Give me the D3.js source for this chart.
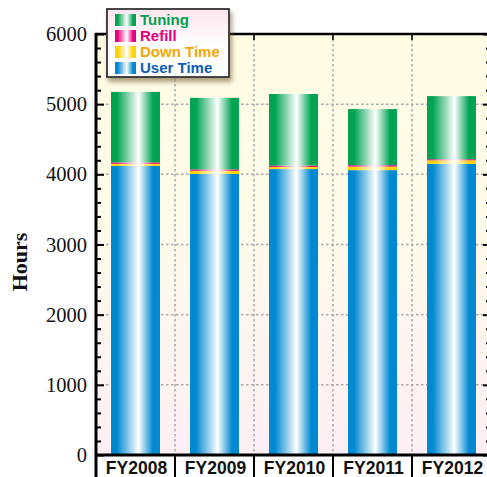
<!DOCTYPE html>
<html>
<head>
<meta charset="utf-8">
<script src="https://cdn.jsdelivr.net/npm/d3@7"></script>
<style>
  html, body { margin: 0; padding: 0; background: #ffffff; }
  svg { display: block; }
</style>
</head>
<body>
<svg id="chart" width="487" height="477"></svg>
<script>
// Annual beam hours by use category
const years = ["FY2008", "FY2009", "FY2010", "FY2011", "FY2012"];
const userTime = [4120, 4005, 4075, 4060, 4150];
const downTime = [30, 45, 30, 50, 50];
const refill   = [20, 20, 20, 20, 15];
const tuning   = [1005, 1020, 1020, 800, 900];
const seriesNames = ["User Time", "Down Time", "Refill", "Tuning"];
const yTicks = [0, 1000, 2000, 3000, 4000, 5000, 6000];

const colors = {
  "User Time": "#0088d1",
  "Down Time": "#ffd200",
  "Refill":    "#e6007e",
  "Tuning":    "#00a352"
};
const textColors = {
  "User Time": "#0d5cae",
  "Down Time": "#f5a700",
  "Refill":    "#e4007c",
  "Tuning":    "#00a050"
};

const svg = d3.select("#chart");
const W = 487, H = 477;
const plot = { left: 96, right: 491, top: 34, bottom: 455 };

const rows = years.map((yr, i) => ({
  year: yr,
  "User Time": userTime[i],
  "Down Time": downTime[i],
  "Refill": refill[i],
  "Tuning": tuning[i]
}));
const stacked = d3.stack().keys(seriesNames)(rows);

const xBand = d3.scaleBand().domain(years).range([plot.left, plot.right]).padding(0);
const xBar = d3.scaleBand().domain(years).range([plot.left, plot.right])
  .paddingInner(0.38).paddingOuter(0.19);
const y = d3.scaleLinear().domain([0, 6000]).range([plot.bottom, plot.top]);

// ---- gradients and filters ----
const defs = svg.append("defs");
const bg = defs.append("linearGradient").attr("id", "bg-grad")
  .attr("x1", 0).attr("y1", 0).attr("x2", 0).attr("y2", 1);
bg.append("stop").attr("offset", 0).attr("stop-color", "#fffce4");
bg.append("stop").attr("offset", 0.45).attr("stop-color", "#fffbea");
bg.append("stop").attr("offset", 1).attr("stop-color", "#fdeff5");

seriesNames.forEach((name, i) => {
  const g = defs.append("linearGradient").attr("id", "bar-grad-" + i)
    .attr("x1", 0).attr("y1", 0).attr("x2", 1).attr("y2", 0);
  [[0, colors[name]], [0.12, colors[name]], [0.56, "#ffffff"], [0.86, colors[name]], [1, colors[name]]]
    .forEach(([o, c]) => g.append("stop").attr("offset", o).attr("stop-color", c));
});

const lg = defs.append("linearGradient").attr("id", "legend-grad")
  .attr("x1", 0).attr("y1", 0).attr("x2", 0).attr("y2", 1);
lg.append("stop").attr("offset", 0).attr("stop-color", "#fde6ef");
lg.append("stop").attr("offset", 0.55).attr("stop-color", "#ffffff");
lg.append("stop").attr("offset", 1).attr("stop-color", "#ffffff");

const shadow = defs.append("filter").attr("id", "legend-shadow")
  .attr("x", "-20%").attr("y", "-20%").attr("width", "150%").attr("height", "160%");
shadow.append("feDropShadow").attr("dx", 2).attr("dy", 4).attr("stdDeviation", 2.5)
  .attr("flood-color", "#6e5a2e").attr("flood-opacity", 0.6);

// ---- plot background ----
svg.append("rect")
  .attr("x", plot.left).attr("y", plot.top)
  .attr("width", plot.right - plot.left).attr("height", plot.bottom - plot.top)
  .attr("fill", "url(#bg-grad)");

// ---- grid ----
const grid = svg.append("g").attr("stroke", "#a9a9a9").attr("stroke-width", 1.5)
  .attr("stroke-dasharray", "2.5,2.5");
grid.selectAll("line.h").data(yTicks.filter(t => t > 0 && t < 6000)).join("line")
  .attr("x1", plot.left).attr("x2", plot.right)
  .attr("y1", d => y(d)).attr("y2", d => y(d));
grid.selectAll("line.v").data(years.slice(1)).join("line")
  .attr("x1", d => xBand(d)).attr("x2", d => xBand(d))
  .attr("y1", plot.top).attr("y2", plot.bottom);

// ---- bars ----
svg.append("g").selectAll("g").data(stacked).join("g")
  .attr("fill", (d, i) => "url(#bar-grad-" + i + ")")
  .selectAll("rect").data(d => d).join("rect")
  .attr("x", d => xBar(d.data.year))
  .attr("width", xBar.bandwidth())
  .attr("y", d => y(d[1]))
  .attr("height", d => y(d[0]) - y(d[1]));

// ---- axes ----
const minorTicks = d3.range(0, 6001, 200).filter(v => v % 1000 !== 0);

const left = svg.append("g").attr("transform", `translate(${plot.left},0)`)
  .call(d3.axisLeft(y).tickValues(yTicks).tickSize(-8).tickPadding(9).tickFormat(d3.format("d")));
left.select(".domain").remove();
left.selectAll(".tick line").attr("stroke", "#000").attr("stroke-width", 2);
left.selectAll(".tick text")
  .attr("font-family", "'Liberation Serif', 'Times New Roman', serif")
  .attr("font-size", 20.5).attr("fill", "#111");
const leftMinor = svg.append("g").attr("transform", `translate(${plot.left},0)`)
  .call(d3.axisLeft(y).tickValues(minorTicks).tickSize(-5).tickFormat(""));
leftMinor.select(".domain").remove();
leftMinor.selectAll(".tick line").attr("stroke", "#000").attr("stroke-width", 2);

const right = svg.append("g").attr("transform", `translate(${plot.right},0)`)
  .call(d3.axisRight(y).tickValues(yTicks).tickSize(-8).tickFormat(""));
right.select(".domain").remove();
right.selectAll(".tick line").attr("stroke", "#000").attr("stroke-width", 2);
const rightMinor = svg.append("g").attr("transform", `translate(${plot.right},0)`)
  .call(d3.axisRight(y).tickValues(minorTicks).tickSize(-5).tickFormat(""));
rightMinor.select(".domain").remove();
rightMinor.selectAll(".tick line").attr("stroke", "#000").attr("stroke-width", 2);

// category dividers below the base line and short ticks under the top edge
svg.append("g").selectAll("line").data(years.slice(1)).join("line")
  .attr("x1", d => xBand(d)).attr("x2", d => xBand(d))
  .attr("y1", plot.bottom).attr("y2", H)
  .attr("stroke", "#000").attr("stroke-width", 2);
svg.append("g").selectAll("line").data(years.slice(1)).join("line")
  .attr("x1", d => xBand(d)).attr("x2", d => xBand(d))
  .attr("y1", plot.top).attr("y2", plot.top + 6)
  .attr("stroke", "#333").attr("stroke-width", 2);

// frame
svg.append("line").attr("x1", plot.left).attr("x2", plot.left)
  .attr("y1", plot.top - 1).attr("y2", H).attr("stroke", "#000").attr("stroke-width", 3);
svg.append("line").attr("x1", plot.left - 1).attr("x2", W)
  .attr("y1", plot.top).attr("y2", plot.top).attr("stroke", "#000").attr("stroke-width", 2.5);
svg.append("line").attr("x1", plot.left - 1).attr("x2", W)
  .attr("y1", plot.bottom).attr("y2", plot.bottom).attr("stroke", "#000").attr("stroke-width", 3);

// category labels
svg.append("g").selectAll("text").data(years).join("text")
  .attr("x", d => xBand(d) + xBand.bandwidth() / 2 + 1)
  .attr("y", 474)
  .attr("text-anchor", "middle")
  .attr("font-family", "'Liberation Sans', Arial, sans-serif")
  .attr("font-weight", "bold").attr("font-size", 17.5).attr("fill", "#111")
  .text(d => d);

// y axis title
svg.append("text")
  .attr("transform", "translate(27,262) rotate(-90)")
  .attr("text-anchor", "middle")
  .attr("font-family", "'Liberation Serif', 'Times New Roman', serif")
  .attr("font-weight", "bold").attr("font-size", 22).attr("fill", "#111")
  .text("Hours");

// ---- legend ----
const legend = svg.append("g");
legend.append("rect")
  .attr("x", 107).attr("y", 9).attr("width", 122).attr("height", 68)
  .attr("fill", "url(#legend-grad)").attr("stroke", "#333").attr("stroke-width", 1.8)
  .attr("filter", "url(#legend-shadow)");
const legendOrder = ["Tuning", "Refill", "Down Time", "User Time"];
const legendY = d3.scalePoint().domain(legendOrder).range([25, 73]);
legendOrder.forEach(name => {
  const idx = seriesNames.indexOf(name);
  legend.append("rect")
    .attr("x", 115).attr("y", legendY(name) - 11)
    .attr("width", 21).attr("height", 12)
    .attr("fill", "url(#bar-grad-" + idx + ")");
  legend.append("text")
    .attr("x", 140).attr("y", legendY(name))
    .attr("font-family", "'Liberation Sans', Arial, sans-serif")
    .attr("font-weight", "bold").attr("font-size", 15)
    .attr("fill", textColors[name])
    .text(name);
});
</script>
</body>
</html>
